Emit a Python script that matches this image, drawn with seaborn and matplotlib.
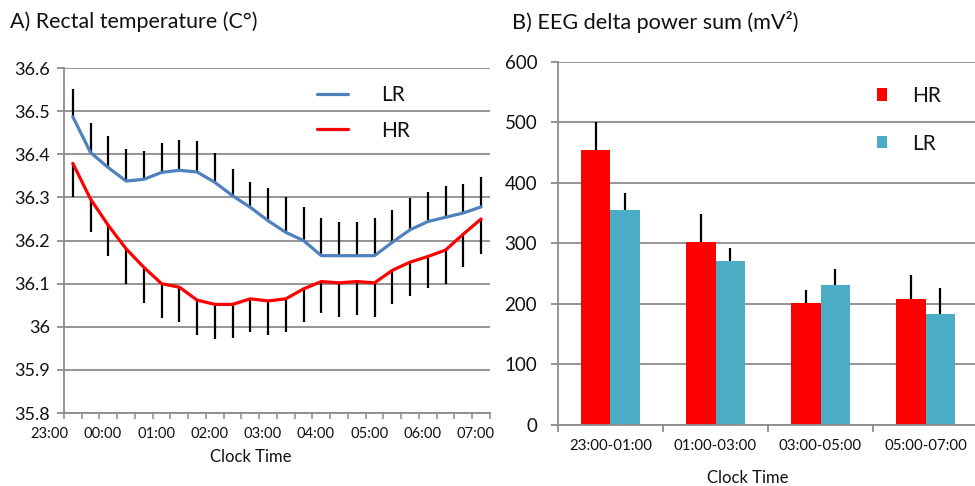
import numpy as np
import pandas as pd
import matplotlib
matplotlib.use("Agg")
import matplotlib.pyplot as plt
import matplotlib.transforms as mtransforms
from matplotlib.ticker import FuncFormatter
import seaborn as sns

# ---------------- data ----------------
# Panel A: rectal temperature, 24 time points (mean and one-sided SEM)
lr_temp = [36.487, 36.404, 36.369, 36.338, 36.342, 36.358, 36.363, 36.359,
           36.335, 36.304, 36.277, 36.246, 36.219, 36.200, 36.165, 36.165,
           36.165, 36.165, 36.196, 36.225, 36.244, 36.254, 36.264, 36.278]
lr_err = [0.065, 0.068, 0.073, 0.074, 0.066, 0.069, 0.070, 0.073,
          0.067, 0.063, 0.059, 0.076, 0.082, 0.077, 0.087, 0.077,
          0.077, 0.087, 0.076, 0.073, 0.068, 0.073, 0.068, 0.070]
hr_temp = [36.379, 36.296, 36.235, 36.181, 36.138, 36.100, 36.092, 36.062,
           36.052, 36.052, 36.065, 36.060, 36.065, 36.088, 36.105, 36.102,
           36.105, 36.102, 36.131, 36.150, 36.163, 36.178, 36.215, 36.250]
hr_err = [0.079, 0.075, 0.070, 0.081, 0.082, 0.079, 0.080, 0.081,
          0.080, 0.077, 0.078, 0.079, 0.078, 0.076, 0.073, 0.080,
          0.078, 0.080, 0.079, 0.079, 0.072, 0.078, 0.077, 0.081]
time_labels = ["23:00", "00:00", "01:00", "02:00", "03:00",
               "04:00", "05:00", "06:00", "07:00"]

# Panel B: EEG delta power sum
periods = ["23:00-01:00", "01:00-03:00", "03:00-05:00", "05:00-07:00"]
hr_delta = [455, 303, 201, 208]
hr_delta_err = [46, 45, 22, 40]
lr_delta = [355, 271, 232, 183]
lr_delta_err = [29, 22, 26, 43]

# ---------------- style ----------------
sns.set_theme(style="white")
plt.rcParams["font.family"] = ["Lato", "DejaVu Sans"]
GRID = "#8c8c8c"
BLUE = "#4F81BD"
RED = "#FF0000"
TEAL = "#4BACC6"
TXT = "#111111"

fig = plt.figure(figsize=(9.75, 4.86), dpi=100)
ax1 = fig.add_axes([0.0656, 0.150, 0.4369, 0.710])
ax2 = fig.add_axes([0.5723, 0.1255, 0.4308, 0.7475])

# ---------------- panel A ----------------
n = len(lr_temp)
idx = np.arange(n)
df_a = pd.DataFrame({
    "pt": np.concatenate([idx, idx]),
    "temp": lr_temp + hr_temp,
    "group": ["LR"] * n + ["HR"] * n,
})
ax1.errorbar(idx, lr_temp, yerr=[np.zeros(n), lr_err], fmt="none",
             ecolor="black", elinewidth=1.6, capsize=0, zorder=2)
ax1.errorbar(idx, hr_temp, yerr=[hr_err, np.zeros(n)], fmt="none",
             ecolor="black", elinewidth=1.6, capsize=0, zorder=2)
sns.lineplot(data=df_a, x="pt", y="temp", hue="group",
             palette={"LR": BLUE, "HR": RED}, hue_order=["LR", "HR"],
             linewidth=2.3, ax=ax1, zorder=3, legend=False)

ax1.set_xlim(-0.5, n - 0.5)
ax1.set_ylim(35.8, 36.6)
ax1.set_yticks(np.round(np.arange(35.8, 36.61, 0.1), 1))
ax1.yaxis.set_major_formatter(FuncFormatter(lambda v, p: f"{v:g}"))
ax1.set_xticks(np.arange(-0.5, n, 1))
ax1.set_xticklabels([])
ax1.grid(axis="y", color=GRID, linewidth=1.3)
ax1.set_axisbelow(True)
for s in ["top", "right"]:
    ax1.spines[s].set_visible(False)
for s in ["left", "bottom"]:
    ax1.spines[s].set_color(GRID)
    ax1.spines[s].set_linewidth(1.3)
ax1.tick_params(axis="y", length=5, width=1.3, color=GRID, pad=5,
                labelsize=13, labelcolor=TXT, left=True)
ax1.tick_params(axis="x", length=4, width=1.1, color=GRID, bottom=True)
ax1.set_xlabel("")
ax1.set_ylabel("")
trans = mtransforms.blended_transform_factory(ax1.transData, ax1.transAxes)
for k, lab in enumerate(time_labels):
    ax1.text(-1.3 + 3 * k, -0.04, lab, transform=trans, ha="center",
             va="top", fontsize=10.6, color=TXT, clip_on=False)
fig.text(251 / 975, 1 - 457 / 486, "Clock Time", ha="center", va="center",
         fontsize=12, color=TXT)

h_lr = plt.Line2D([], [], color=BLUE, linewidth=2.3)
h_hr = plt.Line2D([], [], color=RED, linewidth=2.3)
ax1.legend([h_lr, h_hr], ["LR", "HR"], loc="upper left",
           bbox_to_anchor=(0.551, 1.005), frameon=False, fontsize=15,
           handlelength=1.45, handletextpad=1.6, labelspacing=0.75,
           labelcolor=TXT)

# ---------------- panel B ----------------
df_b = pd.DataFrame({
    "period": periods * 2,
    "power": hr_delta + lr_delta,
    "group": ["HR"] * len(periods) + ["LR"] * len(periods),
})
sns.barplot(data=df_b, x="period", y="power", hue="group",
            hue_order=["HR", "LR"], palette={"HR": RED, "LR": TEAL},
            order=periods, width=0.57, errorbar=None, saturation=1,
            linewidth=0, edgecolor="none", ax=ax2, zorder=2)
for cont, errs in zip(ax2.containers, [hr_delta_err, lr_delta_err]):
    xs = [p.get_x() + p.get_width() / 2 for p in cont]
    ys = [p.get_height() for p in cont]
    ax2.errorbar(xs, ys, yerr=[np.zeros(len(errs)), errs], fmt="none",
                 ecolor="black", elinewidth=1.6, capsize=0, zorder=3)

ax2.set_xlim(-0.5, len(periods) - 0.5)
ax2.set_ylim(0, 600)
ax2.set_yticks(np.arange(0, 601, 100))
ax2.set_xticks(np.arange(-0.5, len(periods), 1), minor=True)
ax2.tick_params(axis="x", which="major", length=0, pad=10, labelsize=10.8,
                labelcolor=TXT)
ax2.tick_params(axis="x", which="minor", length=5, width=1.3, color=GRID,
                bottom=True)
ax2.tick_params(axis="y", length=5, width=1.3, color=GRID, pad=10,
                labelsize=13.5, labelcolor=TXT, left=True)
ax2.grid(axis="y", color=GRID, linewidth=1.3)
ax2.set_axisbelow(True)
for s in ["top", "right"]:
    ax2.spines[s].set_visible(False)
for s in ["left", "bottom"]:
    ax2.spines[s].set_color(GRID)
    ax2.spines[s].set_linewidth(1.3)
ax2.set_xlabel("")
ax2.set_ylabel("")
fig.text(748 / 975, 1 - 478 / 486, "Clock Time", ha="center", va="center",
         fontsize=12, color=TXT)
handles, labels = ax2.get_legend_handles_labels()
ax2.legend(handles, labels, loc="upper left", bbox_to_anchor=(0.714, 0.985),
           frameon=False, fontsize=15, handlelength=0.52, handleheight=0.52,
           handletextpad=1.2, labelspacing=1.33, labelcolor=TXT)

# ---------------- titles ----------------
fig.text(10 / 975, 1 - 22 / 486, "A) Rectal temperature (C\u00b0)",
         ha="left", va="center", fontsize=15.4, color=TXT)
fig.text(512 / 975, 1 - 22 / 486, "B) EEG delta power sum (mV\u00b2)",
         ha="left", va="center", fontsize=15.6, color=TXT)

fig.savefig("out.png", dpi=100)
